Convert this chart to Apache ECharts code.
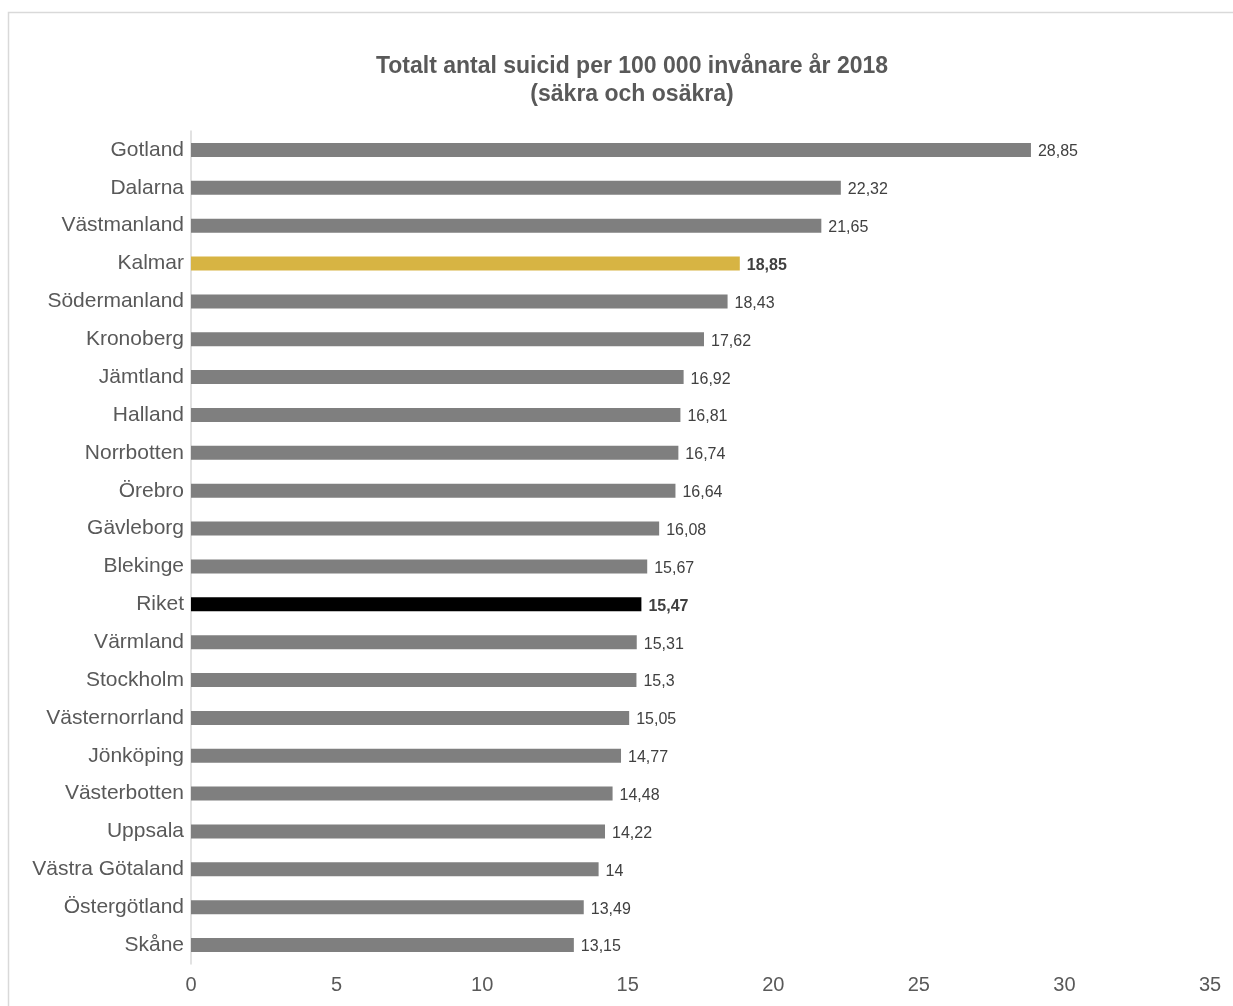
<!DOCTYPE html>
<html>
<head>
<meta charset="utf-8">
<script src="https://cdn.jsdelivr.net/npm/echarts@6/dist/echarts.min.js"></script>
<style>
  html, body { margin: 0; padding: 0; background: #ffffff; }
  #chart { width: 1233px; height: 1006px; }
</style>
</head>
<body>
<div id="chart"></div>
<script>
// län, sorterade som i diagrammet (störst överst)
const regions = ["Gotland", "Dalarna", "Västmanland", "Kalmar", "Södermanland", "Kronoberg",
  "Jämtland", "Halland", "Norrbotten", "Örebro", "Gävleborg", "Blekinge", "Riket", "Värmland",
  "Stockholm", "Västernorrland", "Jönköping", "Västerbotten", "Uppsala", "Västra Götaland",
  "Östergötland", "Skåne"];
const rates = [28.85, 22.32, 21.65, 18.85, 18.43, 17.62, 16.92, 16.81, 16.74, 16.64, 16.08,
  15.67, 15.47, 15.31, 15.3, 15.05, 14.77, 14.48, 14.22, 14, 13.49, 13.15];
const xTicks = [0, 5, 10, 15, 20, 25, 30, 35];

const highlight = { "Kalmar": "#d7b443", "Riket": "#000000" };

const chart = echarts.init(document.getElementById('chart'));

const barData = regions.map((name, i) => {
  const c = highlight[name];
  return {
    value: rates[i],
    itemStyle: { color: c || '#7f7f7f' },
    label: { fontWeight: c ? 'bold' : 'normal' }
  };
});

const option = {
  animation: false,
  textStyle: { fontFamily: 'Liberation Sans, Arial, sans-serif' },
  title: {
    text: 'Totalt antal suicid per 100 000 invånare år 2018\n(säkra och osäkra)',
    left: 627,
    top: 48,
    textAlign: 'center',
    textStyle: {
      fontSize: 23,
      fontWeight: 'bold',
      color: '#595959',
      lineHeight: 28,
      fontFamily: 'Liberation Sans, Arial, sans-serif'
    }
  },
  graphic: [{
    type: 'rect',
    shape: { x: 8.5, y: 12.5, width: 1400, height: 1200 },
    style: { fill: 'none', stroke: '#d9d9d9', lineWidth: 1.5 },
    silent: true
  }],
  grid: { left: 191, right: 23, top: 131, bottom: 42 },
  xAxis: {
    type: 'value',
    min: xTicks[0],
    max: xTicks[xTicks.length - 1],
    interval: 5,
    axisLine: { show: false },
    axisTick: { show: false },
    splitLine: { show: false },
    axisLabel: { color: '#595959', fontSize: 20, margin: 11 }
  },
  yAxis: {
    type: 'category',
    data: regions,
    inverse: true,
    axisLine: { show: true, lineStyle: { color: '#d9d9d9', width: 1.5 } },
    axisTick: { show: false },
    axisLabel: { color: '#595959', fontSize: 21, margin: 7, padding: [4, 0, 0, 0] }
  },
  series: [{
    type: 'bar',
    data: barData,
    barWidth: 14,
    label: {
      show: true,
      position: 'right',
      distance: 7,
      color: '#404040',
      fontSize: 16,
      offset: [0, 2],
      formatter: p => String(p.value).replace('.', ',')
    }
  }]
};

chart.setOption(option);
</script>
</body>
</html>
